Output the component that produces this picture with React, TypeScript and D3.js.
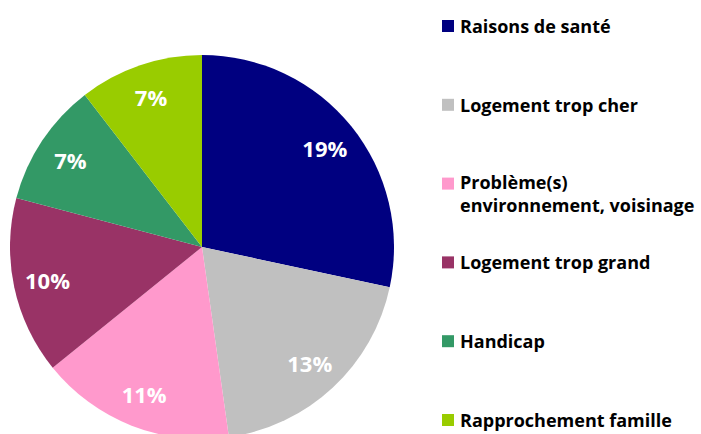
import React from "react";
import * as d3 from "d3";

const categories = [
  "Raisons de santé",
  "Logement trop cher",
  "Problème(s) environnement, voisinage",
  "Logement trop grand",
  "Handicap",
  "Rapprochement famille",
];
const legendLines = [
  ["Raisons de santé"],
  ["Logement trop cher"],
  ["Problème(s)", "environnement, voisinage"],
  ["Logement trop grand"],
  ["Handicap"],
  ["Rapprochement famille"],
];
const values = [19, 13, 11, 10, 7, 7];
const colors = ["#000080", "#C0C0C0", "#FF99CC", "#993366", "#339966", "#99CC00"];

const W = 701;
const H = 434;
const CX = 202;
const CY = 247;
const R = 192;
const FONT = "'Open Sans', Lato, sans-serif";

export default function App() {
  const pie = d3.pie<number>().sort(null).value((d) => d);
  const arcs = pie(values);
  const arc = d3.arc<d3.PieArcDatum<number>>().innerRadius(0).outerRadius(R);
  const labelArc = d3.arc<d3.PieArcDatum<number>>().innerRadius(158).outerRadius(158);

  const legendY = d3.scalePoint<number>().domain(d3.range(categories.length)).range([26, 420]);

  return (
    <svg
      width={W}
      height={H}
      style={{ position: "absolute", left: 0, top: 0, background: "#fff" }}
      fontFamily={FONT}
    >
      <g transform={`translate(${CX},${CY})`}>
        {arcs.map((a, i) => (
          <path key={i} d={arc(a) || ""} fill={colors[i]} />
        ))}
        {arcs.map((a, i) => {
          const [x, y] = labelArc.centroid(a);
          return (
            <text
              key={"l" + i}
              x={x}
              y={y}
              textAnchor="middle"
              dominantBaseline="central"
              fill="#fff"
              fontWeight="bold"
              fontSize={22}
            >
              {values[i]}%
            </text>
          );
        })}
      </g>
      <g>
        {legendLines.map((lines, i) => {
          const y = legendY(i) as number;
          const off = lines.length > 1 ? -1.5 : 0;
          return (
            <g key={"g" + i}>
              <rect x={442} y={y - 6} width={12} height={12} fill={colors[i]} />
              {lines.map((t, j) => (
                <text
                  key={j}
                  x={460}
                  y={y + off + j * 23}
                  dominantBaseline="central"
                  fontWeight="bold"
                  fontSize={18}
                  fill="#000"
                >
                  {t}
                </text>
              ))}
            </g>
          );
        })}
      </g>
    </svg>
  );
}
